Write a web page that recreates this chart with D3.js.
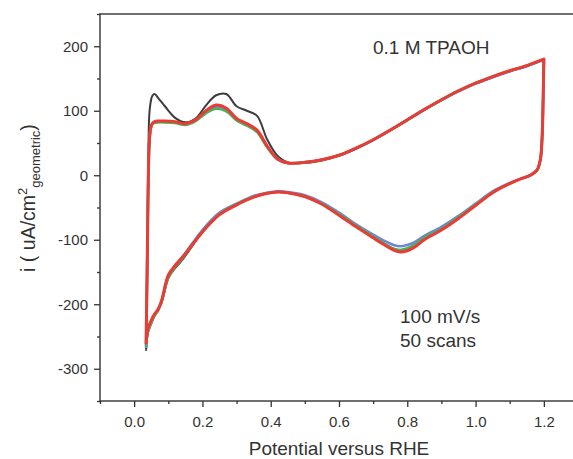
<!DOCTYPE html>
<html>
<head>
<meta charset="utf-8">
<script src="https://cdn.jsdelivr.net/npm/d3@7"></script>
<style>
  body { margin: 0; background: #fff; }
  svg { display: block; }
  text { font-family: Arial, "Liberation Sans", sans-serif; fill: #333; }
</style>
</head>
<body>
<svg width="573" height="459"></svg>
<script>
// potential grid, anodic sweep then cathodic sweep (V vs RHE)
var anodicV = [0.035, 0.038, 0.041, 0.044, 0.048, 0.053, 0.06, 0.07, 0.09, 0.12, 0.15, 0.18, 0.21, 0.24, 0.27, 0.3, 0.33, 0.36, 0.39, 0.42, 0.45, 0.5, 0.55, 0.6, 0.65, 0.7, 0.75, 0.8, 0.85, 0.9, 0.95, 1.0, 1.05, 1.1, 1.15, 1.19, 1.2];
var cathodicV = [1.2, 1.198, 1.195, 1.19, 1.18, 1.16, 1.13, 1.1, 1.05, 1.0, 0.95, 0.9, 0.85, 0.82, 0.8, 0.78, 0.76, 0.73, 0.7, 0.65, 0.6, 0.55, 0.5, 0.45, 0.42, 0.39, 0.35, 0.3, 0.25, 0.2, 0.17, 0.14, 0.12, 0.1, 0.08, 0.07, 0.06, 0.05, 0.04, 0.035];

// currents (uA/cm2)
var scan1Anodic = [-272, -150, -10, 90, 112, 123, 126, 120, 107, 89, 82, 88, 108, 124, 126, 107, 100, 92, 55, 30, 20, 19, 23, 30, 41, 54, 69, 85, 101, 116, 130, 142, 152, 161, 169, 177, 179];
var scan1Cathodic = [179, 120, 60, 25, 8, 0, -6, -13, -27, -46, -66, -84, -99, -109, -114, -116, -114, -106, -96, -79, -61, -44, -33, -27, -26, -28, -34, -46, -61, -88, -110, -132, -144, -160, -198, -210, -218, -230, -245, -270];

var scanBlueAnodic = [-268, -150, -18, 48, 72, 80, 82, 83, 83, 82, 79, 85, 98, 106, 102, 86, 78, 68, 44, 25, 19, 20, 24, 31, 42, 55, 70, 86, 102, 117, 130, 142, 152, 161, 169, 177, 179];
var scanBlueCathodic = [179, 120, 60, 25, 8, 0, -6, -12, -25, -44, -63, -80, -94, -104, -108, -110, -108, -101, -92, -76, -58, -42, -31, -26, -25, -27, -32, -44, -58, -85, -106, -128, -140, -157, -196, -208, -216, -228, -242, -266];

var scanGreenAnodic = [-266, -150, -20, 45, 70, 79, 81, 82, 82, 81, 78, 84, 96, 103, 99, 85, 77, 67, 43, 25, 19, 20, 24, 31, 42, 55, 70, 86, 102, 117, 131, 143, 153, 162, 170, 178, 180];
var scanGreenCathodic = [180, 120, 60, 25, 8, 0, -6, -13, -26, -46, -65, -83, -97, -108, -113, -116, -114, -105, -95, -78, -60, -44, -33, -27, -26, -28, -33, -45, -60, -87, -108, -130, -142, -159, -197, -209, -217, -229, -243, -266];

var scan50Anodic = [-262, -150, -20, 45, 72, 80, 83, 84, 84, 83, 80, 86, 100, 109, 104, 88, 80, 70, 45, 25, 19, 20, 24, 31, 42, 55, 70, 86, 102, 117, 131, 143, 153, 162, 170, 178, 180];
var scan50Cathodic = [180, 120, 60, 25, 8, 0, -6, -13, -27, -47, -67, -85, -100, -112, -117, -119, -116, -107, -97, -80, -62, -45, -33, -27, -26, -28, -34, -46, -61, -88, -108, -128, -140, -155, -195, -208, -215, -225, -238, -262];

var seriesNames = ["scan 1", "scan 10", "scan 25", "scan 50"];
var seriesColors = ["#3d3d3d", "#6f86d8", "#4fae5a", "#ea3b35"];
var seriesWidths = [2, 2.6, 2.6, 3];
var seriesAnodic = [scan1Anodic, scanBlueAnodic, scanGreenAnodic, scan50Anodic];
var seriesCathodic = [scan1Cathodic, scanBlueCathodic, scanGreenCathodic, scan50Cathodic];

var xMajor = [0.0, 0.2, 0.4, 0.6, 0.8, 1.0, 1.2];
var xMinor = [-0.1, 0.1, 0.3, 0.5, 0.7, 0.9, 1.1];
var yMajor = [-300, -200, -100, 0, 100, 200];
var yMinor = [-350, -250, -150, -50, 50, 150, 250];

var svg = d3.select("svg");

var x = d3.scaleLinear().domain([-0.1, 1.3]).range([100, 578]);
var y = d3.scaleLinear().domain([-350, 250]).range([401, 14]);

// frame
svg.append("rect")
  .attr("x", x(-0.1)).attr("y", y(250))
  .attr("width", x(1.3) - x(-0.1)).attr("height", y(-350) - y(250))
  .attr("fill", "none").attr("stroke", "#333").attr("stroke-width", 1.4);

// axes
var xAxis = svg.append("g").attr("transform", "translate(0," + y(-350) + ")")
  .call(d3.axisBottom(x).tickValues(xMajor).tickFormat(d3.format(".1f")).tickSize(6).tickSizeOuter(0));
svg.append("g").attr("transform", "translate(0," + y(-350) + ")")
  .call(d3.axisBottom(x).tickValues(xMinor).tickFormat("").tickSize(3).tickSizeOuter(0));
var yAxis = svg.append("g").attr("transform", "translate(" + x(-0.1) + ",0)")
  .call(d3.axisLeft(y).tickValues(yMajor).tickFormat(function(d) { return String(d); }).tickSize(6).tickSizeOuter(0));
svg.append("g").attr("transform", "translate(" + x(-0.1) + ",0)")
  .call(d3.axisLeft(y).tickValues(yMinor).tickFormat("").tickSize(3).tickSizeOuter(0));

svg.selectAll(".domain").remove();
svg.selectAll(".tick line").attr("stroke", "#333").attr("stroke-width", 1.3);
xAxis.selectAll("text").attr("font-size", 15).attr("dy", "1.15em").attr("fill", "#333");
yAxis.selectAll("text").attr("font-size", 15).attr("dx", "-0.2em").attr("fill", "#333");

// curves
var line = d3.line()
  .x(function(d) { return x(d[0]); })
  .y(function(d) { return y(d[1]); })
  .curve(d3.curveCatmullRom.alpha(0.5));

var loops = seriesNames.map(function(name, i) {
  var pts = anodicV.map(function(v, j) { return [v, seriesAnodic[i][j]]; })
    .concat(cathodicV.map(function(v, j) { return [v, seriesCathodic[i][j]]; }));
  return { name: name, color: seriesColors[i], width: seriesWidths[i], pts: pts };
});

svg.selectAll("path.cv")
  .data(loops)
  .enter()
  .append("path")
  .attr("class", "cv")
  .attr("d", function(d) { return line(d.pts); })
  .attr("fill", "none")
  .attr("stroke", function(d) { return d.color; })
  .attr("stroke-width", function(d) { return d.width; })
  .attr("stroke-linejoin", "round");

// labels
svg.append("text").attr("x", 373).attr("y", 54).attr("font-size", 19).text("0.1 M TPAOH");
svg.append("text").attr("x", 400).attr("y", 323).attr("font-size", 19).text("100 mV/s");
svg.append("text").attr("x", 400).attr("y", 347).attr("font-size", 19).text("50 scans");

svg.append("text").attr("x", 339).attr("y", 455).attr("font-size", 19)
  .attr("text-anchor", "middle").text("Potential versus RHE");

var yt = svg.append("text")
  .attr("transform", "translate(35,198) rotate(-90)")
  .attr("text-anchor", "middle").attr("font-size", 19.5);
yt.append("tspan").text("i ( uA/cm");
yt.append("tspan").attr("font-size", 13).attr("dy", -8).text("2");
yt.append("tspan").attr("font-size", 13).attr("dy", 13).text("geometric");
yt.append("tspan").attr("dy", -5).text(")");
</script>
</body>
</html>
